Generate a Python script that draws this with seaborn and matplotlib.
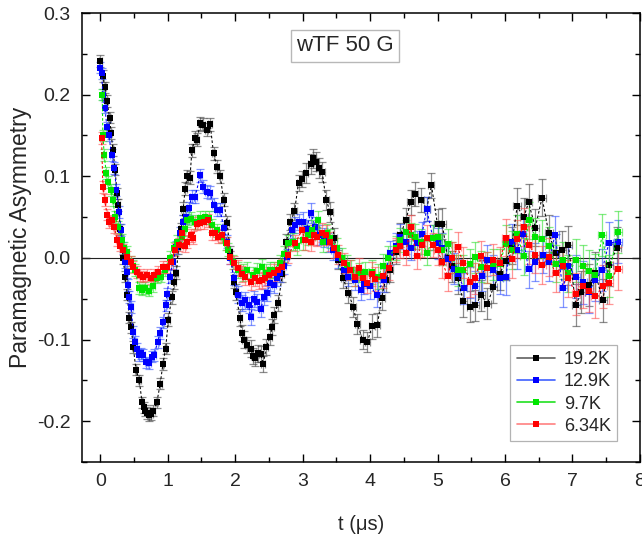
import numpy as np
import pandas as pd
import matplotlib
matplotlib.use("Agg")
import matplotlib.pyplot as plt
from matplotlib.ticker import MultipleLocator, FormatStrFormatter
from matplotlib.lines import Line2D
import seaborn as sns

# ---------------- data ----------------
t_192 = [0.00,0.04,0.07,0.10,0.14,0.16,0.19,0.22,0.25,0.27,0.30,0.34,0.37,0.40,0.43,0.46,0.49,0.53,0.58,0.62,
         0.65,0.67,0.70,0.73,0.76,0.79,0.84,0.89,0.93,0.97,1.01,1.06,1.10,1.13,1.16,1.20,1.23,1.26,1.29,1.33,
         1.36,1.41,1.44,1.48,1.53,1.58,1.63,1.68,1.73,1.78,1.83,1.88,1.93,1.98,2.01,2.07,2.10,2.13,2.17,2.23,
         2.27,2.30,2.34,2.38,2.42,2.46,2.52,2.55,2.58,2.64,2.70,2.76,2.82,2.88,2.94,2.99,3.05,3.12,3.16,3.20,
         3.24,3.29,3.35,3.41,3.47,3.53,3.60,3.68,3.75,3.81,3.89,3.96,4.03,4.11,4.17,4.23,4.30,4.38,4.45,4.53,
         4.60,4.67,4.76,4.84,4.91,5.00,5.07,5.15,5.22,5.30,5.38,5.48,5.56,5.65,5.74,5.83,5.92,6.01,6.10,6.18,
         6.28,6.35,6.45,6.55,6.65,6.75,6.85,6.94,7.05,7.13,7.24,7.34,7.45,7.54,7.66]
a_192 = [0.241,0.223,0.209,0.192,0.172,0.153,0.132,0.108,0.079,0.065,0.035,0.000,-0.023,-0.045,-0.073,-0.085,-0.109,-0.137,-0.150,-0.177,
         -0.183,-0.187,-0.190,-0.193,-0.191,-0.187,-0.177,-0.154,-0.130,-0.111,-0.076,-0.048,-0.030,-0.018,0.013,0.035,0.060,0.085,0.100,0.098,
         0.132,0.147,0.145,0.165,0.163,0.157,0.164,0.128,0.112,0.100,0.071,0.043,0.007,-0.029,-0.042,-0.073,-0.092,-0.100,-0.107,-0.111,
         -0.120,-0.123,-0.117,-0.118,-0.130,-0.109,-0.097,-0.085,-0.070,-0.055,-0.020,0.019,0.044,0.057,0.092,0.097,0.104,0.115,0.122,0.118,
         0.110,0.105,0.071,0.056,0.025,-0.002,-0.025,-0.043,-0.060,-0.081,-0.100,-0.103,-0.084,-0.082,-0.049,-0.027,-0.015,0.007,0.028,0.046,
         0.068,0.078,0.071,0.060,0.089,0.041,0.042,0.000,-0.010,-0.025,-0.053,-0.060,-0.058,-0.046,-0.056,-0.036,-0.020,-0.004,0.015,0.063,
         0.050,0.068,0.037,0.074,0.030,0.006,0.010,0.016,-0.058,-0.042,-0.033,-0.019,-0.052,-0.009,0.012]

t_129 = [0.00,0.02,0.04,0.07,0.10,0.13,0.17,0.21,0.24,0.28,0.31,0.34,0.37,0.39,0.41,0.43,0.46,0.49,0.52,0.55,
         0.58,0.61,0.64,0.68,0.73,0.77,0.80,0.85,0.89,0.93,0.97,0.99,1.03,1.08,1.13,1.19,1.23,1.27,1.31,1.36,
         1.41,1.48,1.53,1.58,1.63,1.68,1.73,1.78,1.83,1.88,1.93,1.98,2.05,2.10,2.15,2.20,2.23,2.28,2.33,2.38,
         2.43,2.48,2.52,2.57,2.62,2.67,2.72,2.77,2.84,2.89,2.94,3.01,3.06,3.12,3.19,3.25,3.32,3.38,3.45,3.53,
         3.61,3.68,3.78,3.86,3.91,4.00,4.10,4.20,4.30,4.38,4.45,4.53,4.60,4.69,4.77,4.84,4.93,5.00,5.07,5.15,
         5.24,5.30,5.39,5.48,5.56,5.66,5.74,5.83,5.92,6.01,6.10,6.18,6.26,6.35,6.45,6.56,6.65,6.74,6.86,6.94,
         7.05,7.15,7.24,7.34,7.44,7.54,7.67]
a_129 = [0.233,0.226,0.200,0.184,0.160,0.150,0.126,0.110,0.083,0.056,0.034,0.012,-0.005,-0.017,-0.033,-0.048,-0.060,-0.091,-0.103,-0.111,
         -0.119,-0.117,-0.119,-0.128,-0.129,-0.121,-0.119,-0.103,-0.092,-0.079,-0.058,-0.044,-0.023,-0.005,0.013,0.030,0.044,0.050,0.061,0.075,
         0.075,0.101,0.087,0.081,0.080,0.065,0.059,0.059,0.037,0.020,0.000,-0.025,-0.045,-0.055,-0.052,-0.058,-0.072,-0.050,-0.054,-0.062,
         -0.048,-0.043,-0.031,-0.033,-0.025,-0.019,-0.010,0.001,0.034,0.040,0.044,0.044,0.035,0.055,0.038,0.028,0.025,0.019,0.010,0.000,
         -0.015,-0.023,-0.027,-0.039,-0.032,-0.035,-0.045,-0.027,0.006,0.015,0.026,0.020,0.012,0.018,0.029,0.060,0.025,0.018,0.012,-0.001,
         -0.013,-0.020,-0.037,-0.030,-0.035,-0.022,-0.003,-0.015,-0.025,-0.023,0.019,0.010,0.029,-0.014,-0.005,0.004,-0.005,0.028,-0.037,-0.010,
         -0.023,-0.030,-0.042,-0.027,-0.015,0.018,0.020]

t_97 = [0.03,0.04,0.06,0.09,0.12,0.16,0.19,0.22,0.27,0.32,0.36,0.40,0.45,0.49,0.52,0.57,0.62,0.67,0.73,0.79,
        0.84,0.90,0.96,1.04,1.09,1.14,1.21,1.25,1.29,1.35,1.41,1.48,1.55,1.61,1.66,1.73,1.81,1.86,1.90,1.97,
        2.05,2.12,2.18,2.27,2.33,2.40,2.46,2.52,2.57,2.67,2.73,2.79,2.86,2.92,3.01,3.08,3.14,3.23,3.31,3.36,
        3.41,3.51,3.59,3.66,3.72,3.78,3.83,3.93,4.03,4.12,4.19,4.26,4.38,4.45,4.54,4.60,4.67,4.75,4.85,4.93,
        5.00,5.07,5.15,5.22,5.30,5.38,5.48,5.56,5.65,5.74,5.83,5.92,6.01,6.10,6.18,6.28,6.35,6.45,6.55,6.65,
        6.75,6.86,6.94,7.05,7.15,7.24,7.34,7.44,7.54,7.67]
a_97 = [0.200,0.150,0.126,0.104,0.093,0.083,0.071,0.050,0.038,0.022,0.012,0.007,-0.005,-0.010,-0.015,-0.037,-0.039,-0.037,-0.040,-0.035,
        -0.024,-0.023,-0.015,0.000,0.012,0.020,0.026,0.035,0.046,0.048,0.044,0.049,0.050,0.049,0.040,0.034,0.026,0.018,0.010,-0.005,
        -0.015,-0.018,-0.015,-0.021,-0.016,-0.011,-0.018,-0.015,-0.015,-0.006,0.005,0.018,0.020,0.014,0.022,0.028,0.034,0.046,0.019,0.030,
        0.024,0.012,0.000,-0.009,-0.015,-0.023,-0.018,-0.017,-0.017,-0.023,-0.010,0.000,0.012,0.022,0.032,0.028,0.026,0.020,0.006,0.025,
        0.026,0.010,0.017,0.000,-0.015,-0.015,-0.008,0.001,-0.011,-0.012,-0.008,-0.008,0.017,0.010,0.029,0.002,0.046,0.026,0.023,0.015,
        -0.007,-0.003,-0.019,-0.003,-0.010,-0.016,-0.021,0.028,-0.022,0.032]

t_634 = [0.02,0.04,0.07,0.10,0.13,0.17,0.21,0.25,0.30,0.34,0.40,0.45,0.49,0.55,0.59,0.64,0.70,0.76,0.80,0.86,
         0.93,0.99,1.05,1.11,1.17,1.21,1.25,1.29,1.34,1.38,1.43,1.48,1.54,1.60,1.65,1.70,1.75,1.81,1.88,1.93,
         1.99,2.05,2.10,2.15,2.23,2.30,2.35,2.40,2.45,2.50,2.57,2.63,2.70,2.79,2.89,2.99,3.04,3.12,3.17,3.22,
         3.29,3.34,3.40,3.46,3.53,3.61,3.71,3.78,3.83,3.90,3.96,4.03,4.08,4.19,4.28,4.38,4.45,4.53,4.60,4.69,
         4.77,4.84,4.93,5.00,5.07,5.15,5.22,5.30,5.38,5.48,5.56,5.65,5.74,5.83,5.92,6.01,6.10,6.18,6.28,6.35,
         6.45,6.55,6.65,6.75,6.86,6.94,7.05,7.15,7.24,7.34,7.45,7.54,7.67]
a_634 = [0.147,0.087,0.071,0.053,0.044,0.046,0.038,0.022,0.015,0.010,0.001,-0.005,-0.011,-0.017,-0.021,-0.023,-0.021,-0.025,-0.021,-0.017,
         -0.011,-0.011,-0.005,0.010,0.016,0.030,0.015,0.020,0.028,0.025,0.042,0.043,0.044,0.046,0.030,0.030,0.026,0.028,0.018,0.001,
         -0.006,-0.012,-0.020,-0.023,-0.029,-0.025,-0.028,-0.027,-0.024,-0.021,-0.018,-0.015,-0.011,0.004,0.018,0.034,0.022,0.020,0.028,0.026,
         0.031,0.028,0.020,0.012,0.004,-0.006,-0.015,-0.023,-0.012,-0.025,-0.031,-0.020,-0.026,-0.022,-0.012,0.010,0.015,0.006,0.038,0.002,
         0.016,0.025,0.016,0.010,-0.005,-0.022,0.000,0.013,-0.006,-0.029,-0.025,0.002,-0.012,-0.002,-0.006,0.025,-0.001,0.023,0.038,0.016,
         0.004,-0.009,0.001,-0.019,-0.010,-0.025,-0.044,-0.035,-0.040,-0.047,-0.035,-0.031,-0.013]

# error-bar sizes read per time window (μs)
err_edges = [0, 1, 2, 3, 4, 5, 6, 7]
yerr_levels = [0.007, 0.008, 0.010, 0.012, 0.015, 0.019, 0.023, 0.026]
xerr_levels = [0.02, 0.025, 0.03, 0.035, 0.045, 0.05, 0.055, 0.06]

labels = ["19.2K", "12.9K", "9.7K", "6.34K"]
colors = ["#000000", "#0000ff", "#00e600", "#ff0000"]
err_colors = ["#404040", "#3050ff", "#30e030", "#ff5050"]
leg_line_colors = ["#606060", "#4060ff", "#20e020", "#ff8080"]

# ---------------- plot ----------------
sns.set_theme(style="ticks")
plt.rcParams["font.family"] = ["Liberation Sans", "DejaVu Sans"]
plt.rcParams["axes.unicode_minus"] = False

fig = plt.figure(figsize=(6.42, 5.37), dpi=100)
ax = fig.add_axes([0.1277, 0.1397, 0.869, 0.836])

series = [(t_192, a_192), (t_129, a_129), (t_97, a_97), (t_634, a_634)]
for (t, a), lab, c, ec in zip(series, labels, colors, err_colors):
    t = np.asarray(t); a = np.asarray(a)
    idx = np.clip(np.digitize(t, err_edges) - 1, 0, len(yerr_levels) - 1)
    ye = np.asarray(yerr_levels)[idx]
    xe = np.asarray(xerr_levels)[idx]
    ax.errorbar(t, a, yerr=ye, xerr=xe, fmt="none", ecolor=ec, elinewidth=0.9,
                capsize=2.8, capthick=0.9, alpha=0.6, zorder=2)
    df = pd.DataFrame({"t": t, "A": a})
    sns.lineplot(data=df, x="t", y="A", ax=ax, sort=False, estimator=None,
                 color=c, linewidth=0.75, linestyle=(0, (2.5, 2)),
                 marker="s", markersize=4.3, markeredgewidth=0, zorder=3)

ax.axhline(0, color="#222222", linewidth=0.8, zorder=1)

ax.set_xlim(-0.27, 8.0)
ax.set_ylim(-0.25, 0.3)
ax.xaxis.set_major_locator(MultipleLocator(1))
ax.xaxis.set_minor_locator(MultipleLocator(0.5))
ax.yaxis.set_major_locator(MultipleLocator(0.1))
ax.yaxis.set_minor_locator(MultipleLocator(0.05))
ax.yaxis.set_major_formatter(FormatStrFormatter("%.1f"))
ax.xaxis.set_major_formatter(FormatStrFormatter("%d"))
ax.tick_params(which="both", direction="in", top=True, right=True, color="black")
ax.tick_params(which="major", length=6, width=1, labelsize=14, pad=8)
ax.tick_params(which="minor", length=3.5, width=1)
for s in ax.spines.values():
    s.set_linewidth(1.1)
    s.set_color("black")

ax.set_xlabel("t (\u03bcs)", fontsize=14.5, labelpad=18)
ax.set_ylabel("Paramagnetic Asymmetry", fontsize=16.5, labelpad=4)

ax.text(3.63, 0.26, "wTF 50 G", fontsize=16, ha="center", va="center",
        bbox=dict(boxstyle="square,pad=0.25", facecolor="white", edgecolor="#b8b8b8", linewidth=1))

handles = [Line2D([0], [0], color=lc, lw=1.2, marker="s", markersize=4,
                  markerfacecolor=c, markeredgewidth=0) for lc, c in zip(leg_line_colors, colors)]
leg = ax.legend(handles, labels, loc="lower right", bbox_to_anchor=(0.959, 0.047),
                fontsize=13, frameon=True, fancybox=False, edgecolor="#a0a0a0",
                handlelength=2.1, labelspacing=0.28, borderpad=0.35, handletextpad=0.5,
                borderaxespad=0)
leg.get_frame().set_linewidth(0.9)

fig.savefig("out.png", dpi=100)
